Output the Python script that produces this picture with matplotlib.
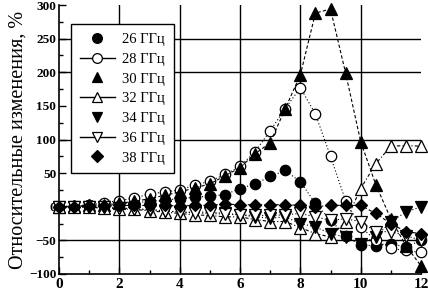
import matplotlib
matplotlib.use("Agg")
import matplotlib.pyplot as plt
from matplotlib.lines import Line2D
from matplotlib.ticker import MultipleLocator

x = [0, 0.5, 1, 1.5, 2, 2.5, 3, 3.5, 4, 4.5, 5, 5.5, 6, 6.5, 7, 7.5,
     8, 8.5, 9, 9.5, 10, 10.5, 11, 11.5, 12]

s26 = [0, 1, 2, 3, 4, 6, 8, 10, 12, 14, 16, 18, 27, 34, 45, 54,
       37, 5, -20, -43, -57, -58, -55, -60, -50]
s28 = [0, 1, 3, 6, 9, 13, 19, 22, 25, 32, 38, 48, 60, 82, 113, 146,
       177, 138, 75, 9, -30, -50, -62, -65, -68]
s30 = [0, 1, 2, 3, 5, 8, 12, 17, 22, 28, 34, 46, 58, 79, 95, 146,
       196, 288, 294, 199, 97, 33, -18, -58, -88]
s32 = [0, 0, -1, -2, -3, -4, -6, -8, -10, -12, -13, -15, -15, -19, -22, -22,
       -31, -40, -45, -22, 27, 64, 90, 91, 90]
s34 = [0, 0, -1, -1, -2, -3, -5, -6, -8, -8, -8, -10, -12, -15, -17, -15,
       -25, -30, -40, -45, -55, -45, -22, -8, 0]
s36 = [0, 0, 0, -1, -2, -3, -4, -6, -8, -9, -10, -11, -12, -13, -13, -12,
       -10, -15, -20, -18, -22, -37, -37, -43, -50]
s38 = [0, 0, 1, 1, 2, 2, 2, 2, 1, 2, 2, 4, 3, 3, 3, 3,
       2, 0, 2, 2, 2, -10, -25, -37, -40]

labels = ["26 ГГц", "28 ГГц", "30 ГГц", "32 ГГц", "34 ГГц", "36 ГГц", "38 ГГц"]
series = [s26, s28, s30, s32, s34, s36, s38]
markers = ["o", "o", "^", "^", "v", "v", "D"]
filled = [True, False, True, False, True, False, True]
styles = [(0, (1, 2)), (0, (1, 2)), (0, (3, 2)), (0, (3, 2, 1, 2)),
          (0, (1, 2)), (0, (1, 2)), (0, (3, 2))]
msizes = [7.5, 7.5, 8, 8, 8, 8, 6.5]

serif = ["Liberation Serif", "DejaVu Serif"]
plt.rcParams["font.family"] = serif

fig = plt.figure(figsize=(4.28, 2.92), dpi=100)
ax = fig.add_axes([59/428, 18/292, 362/428, 269/292])

for v in [2, 4, 6, 8, 10]:
    ax.axvline(v, color="black", lw=1, zorder=1)
for v in [250, 200, 100, -50]:
    ax.axhline(v, color="black", lw=1, zorder=1)

for ys, m, f, st, ms in zip(series, markers, filled, styles, msizes):
    ax.plot(x, ys, linestyle=st, color="black", lw=0.8, marker=m,
            markersize=ms, markerfacecolor="black" if f else "white",
            markeredgecolor="black", markeredgewidth=0.9, clip_on=False,
            zorder=3)

ax.set_xlim(0, 12)
ax.set_ylim(-100, 300)
ax.xaxis.set_major_locator(MultipleLocator(2))
ax.xaxis.set_minor_locator(MultipleLocator(1))
ax.yaxis.set_major_locator(MultipleLocator(50))
ax.yaxis.set_minor_locator(MultipleLocator(25))
ax.tick_params(which="both", direction="in", top=False, right=False,
               width=1, color="black")
ax.tick_params(which="major", length=5)
ax.tick_params(which="minor", length=3)
ax.tick_params(axis="x", labelsize=11, pad=3)
ax.tick_params(axis="y", labelsize=9.5, pad=2)
for lab in ax.get_xticklabels() + ax.get_yticklabels():
    lab.set_fontweight("bold")
ax.spines["top"].set_visible(False)
ax.spines["right"].set_visible(False)
ax.spines["left"].set_linewidth(1.2)
ax.spines["bottom"].set_linewidth(1.2)

ax.set_ylabel("Относительные изменения, %", fontsize=14.5, labelpad=1)

handles = []
for m, f, ms in zip(markers, filled, msizes):
    handles.append(Line2D([], [], color="black", lw=1 if not f else 0,
                          marker=m, markersize=ms - 0.5,
                          markerfacecolor="black" if f else "white",
                          markeredgecolor="black", markeredgewidth=0.9))
leg = ax.legend(handles, labels, loc="upper left",
                bbox_to_anchor=(12/362, 250/269), borderaxespad=0,
                fontsize=10.5, frameon=True, fancybox=False, framealpha=1,
                edgecolor="black", handlelength=2.4, handletextpad=0.5,
                labelspacing=0.45, borderpad=0.6)
leg.get_frame().set_linewidth(1)
leg.set_zorder(5)

fig.savefig("out.png", dpi=100)
